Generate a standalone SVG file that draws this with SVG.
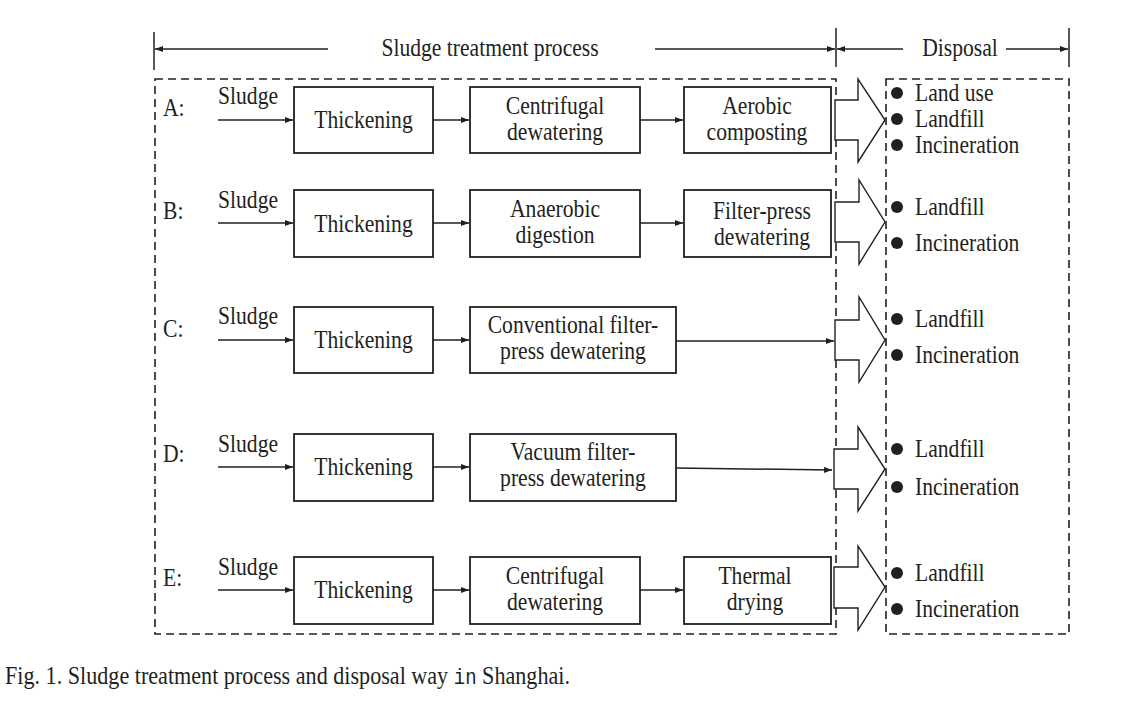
<svg xmlns="http://www.w3.org/2000/svg" width="1147" height="706" viewBox="0 0 1147 706">
<defs>
<style>
.t{font-family:"Liberation Serif","Times New Roman",serif;font-size:25px;fill:#231f20}
.c{text-anchor:middle}
.box{fill:#fff;stroke:#231f20;stroke-width:1.8}
.ln{fill:none;stroke:#231f20;stroke-width:1.5}
.dash{fill:none;stroke:#231f20;stroke-width:1.6;stroke-dasharray:8 5}
.blk{fill:#fff;stroke:#231f20;stroke-width:1.4;stroke-linejoin:miter}
.dot{fill:#231f20}
</style>
<marker id="ah" viewBox="0 0 8 6" refX="8" refY="3" markerWidth="8" markerHeight="6" markerUnits="userSpaceOnUse" orient="auto"><path d="M0,0 L8,3 L0,6 z" fill="#231f20"/></marker>
</defs>
<rect width="1147" height="706" fill="#fff"/>

<g id="header">
<line class="ln" x1="154" y1="32" x2="154" y2="70"/>
<line class="ln" x1="836" y1="28" x2="836" y2="67"/>
<line class="ln" x1="1069" y1="28" x2="1069" y2="67"/>
<line class="ln" x1="328" y1="49" x2="155" y2="49" marker-end="url(#ah)"/>
<line class="ln" x1="655" y1="49" x2="835" y2="49" marker-end="url(#ah)"/>
<line class="ln" x1="903" y1="49" x2="837" y2="49" marker-end="url(#ah)"/>
<line class="ln" x1="1006" y1="49" x2="1068" y2="49" marker-end="url(#ah)"/>
<text class="t c" transform="translate(490,56) scale(0.865,1)">Sludge treatment process</text>
<text class="t c" transform="translate(960,56) scale(0.865,1)">Disposal</text>
</g>

<g id="frames">
<rect class="dash" x="155" y="79" width="681" height="555"/>
<rect class="dash" x="886" y="79" width="183" height="555"/>
</g>

<g id="connectors">
<line class="ln" x1="218" y1="120" x2="293" y2="120" marker-end="url(#ah)"/>
<line class="ln" x1="433" y1="120" x2="469" y2="120" marker-end="url(#ah)"/>
<line class="ln" x1="640" y1="120" x2="683" y2="120" marker-end="url(#ah)"/>
<line class="ln" x1="218" y1="223" x2="293" y2="223" marker-end="url(#ah)"/>
<line class="ln" x1="433" y1="223" x2="469" y2="223" marker-end="url(#ah)"/>
<line class="ln" x1="640" y1="223" x2="683" y2="223" marker-end="url(#ah)"/>
<line class="ln" x1="218" y1="340" x2="293" y2="340" marker-end="url(#ah)"/>
<line class="ln" x1="433" y1="340" x2="469" y2="340" marker-end="url(#ah)"/>
<line class="ln" x1="676" y1="341" x2="834" y2="341" marker-end="url(#ah)"/>
<line class="ln" x1="218" y1="467" x2="293" y2="467" marker-end="url(#ah)"/>
<line class="ln" x1="433" y1="467" x2="469" y2="467" marker-end="url(#ah)"/>
<line class="ln" x1="676" y1="468" x2="832" y2="470" marker-end="url(#ah)"/>
<line class="ln" x1="218" y1="590" x2="293" y2="590" marker-end="url(#ah)"/>
<line class="ln" x1="433" y1="590" x2="469" y2="590" marker-end="url(#ah)"/>
<line class="ln" x1="640" y1="590" x2="683" y2="590" marker-end="url(#ah)"/>
</g>

<g id="blockArrows">
<polygon class="blk" points="835,100 858,100 858,79 885,120 858,162 858,140 835,140"/>
<polygon class="blk" points="835,202 859,202 859,180 885,222 859,264 859,242 835,242"/>
<polygon class="blk" points="835,320 859,320 859,297 885,340 859,382 859,360 835,360"/>
<polygon class="blk" points="834,449 858,449 858,427 885,469 858,511 858,489 834,489"/>
<polygon class="blk" points="834,567 858,567 858,546 885,587 858,630 858,608 834,608"/>
</g>

<g id="rowA">
<text class="t" transform="translate(163,116) scale(0.865,1)">A:</text>
<text class="t" transform="translate(218,104) scale(0.865,1)">Sludge</text>
</g>
<g id="A-thickening"><rect class="box" x="294" y="87" width="139" height="66"/><text class="t c" transform="translate(363.5,128) scale(0.865,1)">Thickening</text></g>
<g id="A-centrifugal"><rect class="box" x="470" y="87" width="170" height="66"/><text class="t c" transform="translate(555,114) scale(0.865,1)">Centrifugal</text><text class="t c" transform="translate(555,140) scale(0.865,1)">dewatering</text></g>
<g id="A-aerobic"><rect class="box" x="684" y="87" width="147" height="66"/><text class="t c" transform="translate(757,114) scale(0.865,1)">Aerobic</text><text class="t c" transform="translate(757,140) scale(0.865,1)">composting</text></g>
<g id="A-disposal">
<circle class="dot" cx="897" cy="93" r="6"/><text class="t" transform="translate(915,101) scale(0.865,1)">Land use</text>
<circle class="dot" cx="897" cy="119" r="6"/><text class="t" transform="translate(915,127) scale(0.865,1)">Landfill</text>
<circle class="dot" cx="897" cy="145" r="6"/><text class="t" transform="translate(915,153) scale(0.865,1)">Incineration</text>
</g>

<g id="rowB">
<text class="t" transform="translate(163,219) scale(0.865,1)">B:</text>
<text class="t" transform="translate(218,208) scale(0.865,1)">Sludge</text>
</g>
<g id="B-thickening"><rect class="box" x="294" y="190" width="139" height="67"/><text class="t c" transform="translate(363.5,232) scale(0.865,1)">Thickening</text></g>
<g id="B-anaerobic"><rect class="box" x="470" y="190" width="170" height="67"/><text class="t c" transform="translate(555,217) scale(0.865,1)">Anaerobic</text><text class="t c" transform="translate(555,243) scale(0.865,1)">digestion</text></g>
<g id="B-filterpress"><rect class="box" x="684" y="190" width="147" height="67"/><text class="t c" transform="translate(762,219) scale(0.865,1)">Filter-press</text><text class="t c" transform="translate(762,245) scale(0.865,1)">dewatering</text></g>
<g id="B-disposal">
<circle class="dot" cx="897" cy="207" r="6"/><text class="t" transform="translate(915,215) scale(0.865,1)">Landfill</text>
<circle class="dot" cx="897" cy="243" r="6"/><text class="t" transform="translate(915,251) scale(0.865,1)">Incineration</text>
</g>

<g id="rowC">
<text class="t" transform="translate(163,337) scale(0.865,1)">C:</text>
<text class="t" transform="translate(218,324) scale(0.865,1)">Sludge</text>
</g>
<g id="C-thickening"><rect class="box" x="294" y="307" width="139" height="66"/><text class="t c" transform="translate(363.5,348) scale(0.865,1)">Thickening</text></g>
<g id="C-conventional"><rect class="box" x="470" y="307" width="206" height="66"/><text class="t c" transform="translate(573,333) scale(0.865,1)">Conventional filter-</text><text class="t c" transform="translate(573,359) scale(0.865,1)">press dewatering</text></g>
<g id="C-disposal">
<circle class="dot" cx="897" cy="319" r="6"/><text class="t" transform="translate(915,327) scale(0.865,1)">Landfill</text>
<circle class="dot" cx="897" cy="355" r="6"/><text class="t" transform="translate(915,363) scale(0.865,1)">Incineration</text>
</g>

<g id="rowD">
<text class="t" transform="translate(163,462) scale(0.865,1)">D:</text>
<text class="t" transform="translate(218,452) scale(0.865,1)">Sludge</text>
</g>
<g id="D-thickening"><rect class="box" x="294" y="434" width="139" height="67"/><text class="t c" transform="translate(363.5,475) scale(0.865,1)">Thickening</text></g>
<g id="D-vacuum"><rect class="box" x="470" y="434" width="206" height="67"/><text class="t c" transform="translate(573,460) scale(0.865,1)">Vacuum filter-</text><text class="t c" transform="translate(573,486) scale(0.865,1)">press dewatering</text></g>
<g id="D-disposal">
<circle class="dot" cx="897" cy="449" r="6"/><text class="t" transform="translate(915,457) scale(0.865,1)">Landfill</text>
<circle class="dot" cx="897" cy="487" r="6"/><text class="t" transform="translate(915,495) scale(0.865,1)">Incineration</text>
</g>

<g id="rowE">
<text class="t" transform="translate(163,586) scale(0.865,1)">E:</text>
<text class="t" transform="translate(218,575) scale(0.865,1)">Sludge</text>
</g>
<g id="E-thickening"><rect class="box" x="294" y="557" width="139" height="67"/><text class="t c" transform="translate(363.5,598) scale(0.865,1)">Thickening</text></g>
<g id="E-centrifugal"><rect class="box" x="470" y="557" width="170" height="67"/><text class="t c" transform="translate(555,584) scale(0.865,1)">Centrifugal</text><text class="t c" transform="translate(555,610) scale(0.865,1)">dewatering</text></g>
<g id="E-thermal"><rect class="box" x="684" y="557" width="147" height="67"/><text class="t c" transform="translate(755,584) scale(0.865,1)">Thermal</text><text class="t c" transform="translate(755,610) scale(0.865,1)">drying</text></g>
<g id="E-disposal">
<circle class="dot" cx="897" cy="573" r="6"/><text class="t" transform="translate(915,581) scale(0.865,1)">Landfill</text>
<circle class="dot" cx="897" cy="609" r="6"/><text class="t" transform="translate(915,617) scale(0.865,1)">Incineration</text>
</g>

<g id="caption">
<text class="t" style="font-size:25.6px" transform="translate(5,684) scale(0.865,1)">Fig. 1. Sludge treatment process and disposal way <tspan style="font-family:'Liberation Mono','Courier New',monospace;font-size:22px">in</tspan> Shanghai.</text>
</g>
</svg>
